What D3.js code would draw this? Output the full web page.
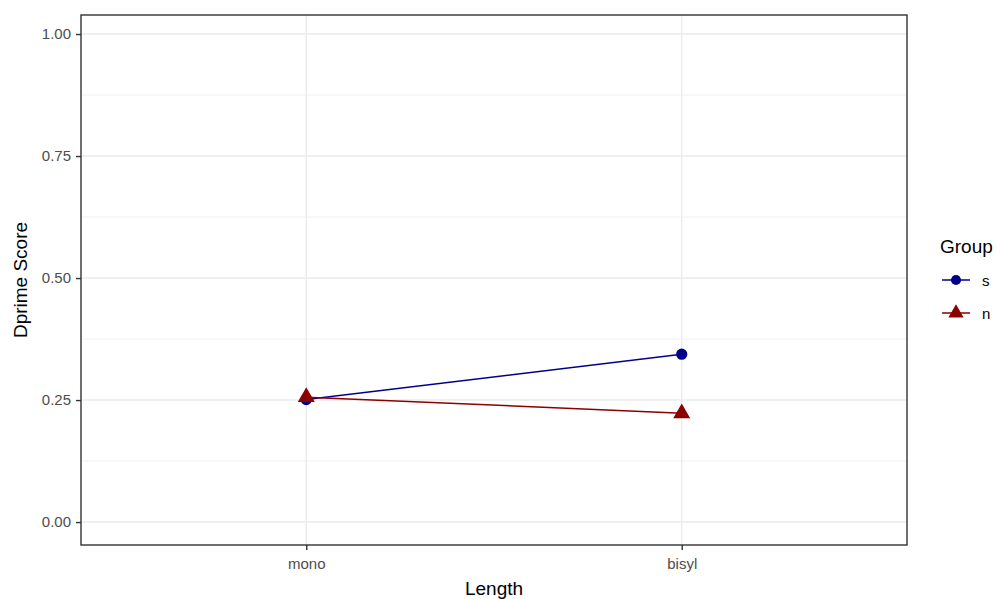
<!DOCTYPE html>
<html>
<head>
<meta charset="utf-8">
<script src="https://cdn.jsdelivr.net/npm/d3@7"></script>
<style>
  body { margin: 0; background: #fff; }
  text { font-family: Arial, "Liberation Sans", sans-serif; }
</style>
</head>
<body>
<div id="chart"></div>
<script>
// data
const lengths = ["mono", "bisyl"];
const groups = ["s", "n"];
const sValues = [0.251, 0.344];
const nValues = [0.256, 0.223];
const yTicks = [0, 0.25, 0.5, 0.75, 1];
const yMinor = [0.125, 0.375, 0.625, 0.875];
const groupColors = ["#00008B", "#8B0000"];

const width = 998, height = 599;
const panel = {left: 81, right: 907, top: 15, bottom: 545};

const svg = d3.select("#chart").append("svg")
  .attr("width", width)
  .attr("height", height);

const x = d3.scalePoint()
  .domain(lengths)
  .range([panel.left, panel.right])
  .padding(0.6);

const y = d3.scaleLinear()
  .domain([-0.047, 1.039])
  .range([panel.bottom, panel.top]);

// grid
const grid = svg.append("g");
grid.selectAll(".minor").data(yMinor).enter().append("line")
  .attr("x1", panel.left).attr("x2", panel.right)
  .attr("y1", d => y(d)).attr("y2", d => y(d))
  .attr("stroke", "#EBEBEB").attr("stroke-width", 0.7);
grid.selectAll(".major").data(yTicks).enter().append("line")
  .attr("x1", panel.left).attr("x2", panel.right)
  .attr("y1", d => y(d)).attr("y2", d => y(d))
  .attr("stroke", "#EBEBEB").attr("stroke-width", 1.4);
grid.selectAll(".vmajor").data(lengths).enter().append("line")
  .attr("y1", panel.top).attr("y2", panel.bottom)
  .attr("x1", d => x(d)).attr("x2", d => x(d))
  .attr("stroke", "#EBEBEB").attr("stroke-width", 1.4);

// series
const series = groups.map((g, i) => ({
  group: g,
  color: groupColors[i],
  shape: i === 0 ? d3.symbolCircle : d3.symbolTriangle,
  size: i === 0 ? 100 : 125,
  values: lengths.map((l, j) => ({len: l, v: (i === 0 ? sValues : nValues)[j]}))
}));

const line = d3.line().x(d => x(d.len)).y(d => y(d.v));

svg.selectAll(".series-line").data(series).enter().append("path")
  .attr("d", d => line(d.values))
  .attr("fill", "none")
  .attr("stroke", d => d.color)
  .attr("stroke-width", 1.5);

series.forEach(s => {
  svg.selectAll(null).data(s.values).enter().append("path")
    .attr("transform", d => "translate(" + x(d.len) + "," + y(d.v) + ")")
    .attr("d", d3.symbol().type(s.shape).size(s.size))
    .attr("fill", s.color);
});

// panel border
svg.append("rect")
  .attr("x", panel.left).attr("y", panel.top)
  .attr("width", panel.right - panel.left)
  .attr("height", panel.bottom - panel.top)
  .attr("fill", "none")
  .attr("stroke", "#333333")
  .attr("stroke-width", 1.4);

// axes
const yAxis = svg.append("g")
  .attr("transform", "translate(" + panel.left + ",0)")
  .call(d3.axisLeft(y).tickValues(yTicks).tickFormat(d3.format(".2f")).tickSize(5).tickPadding(5));
const xAxis = svg.append("g")
  .attr("transform", "translate(0," + panel.bottom + ")")
  .call(d3.axisBottom(x).tickSize(5).tickPadding(8));
[xAxis, yAxis].forEach(a => {
  a.select(".domain").remove();
  a.selectAll(".tick line").attr("stroke", "#333333").attr("stroke-width", 1.4);
  a.selectAll(".tick text").attr("fill", "#4D4D4D").style("font-size", "15px");
});

// titles
svg.append("text")
  .attr("x", (panel.left + panel.right) / 2).attr("y", 595)
  .attr("text-anchor", "middle")
  .style("font-size", "19px")
  .text("Length");
svg.append("text")
  .attr("transform", "translate(27," + (panel.top + panel.bottom) / 2 + ") rotate(-90)")
  .attr("text-anchor", "middle")
  .style("font-size", "19px")
  .text("Dprime Score");

// legend
const legend = svg.append("g").attr("transform", "translate(940,0)");
legend.append("text")
  .attr("x", 0).attr("y", 253)
  .style("font-size", "19px")
  .text("Group");
const keys = legend.selectAll(".key").data(series).enter().append("g")
  .attr("transform", (d, i) => "translate(0," + (280 + i * 33) + ")");
keys.append("line")
  .attr("x1", 2).attr("x2", 30)
  .attr("stroke", d => d.color).attr("stroke-width", 1.5);
keys.append("path")
  .attr("transform", "translate(16,0)")
  .attr("d", (d, i) => d3.symbol().type(d.shape).size(i === 0 ? 80 : 100)())
  .attr("fill", d => d.color);
keys.append("text")
  .attr("x", 42).attr("y", 6)
  .style("font-size", "15px")
  .text(d => d.group);
</script>
</body>
</html>
